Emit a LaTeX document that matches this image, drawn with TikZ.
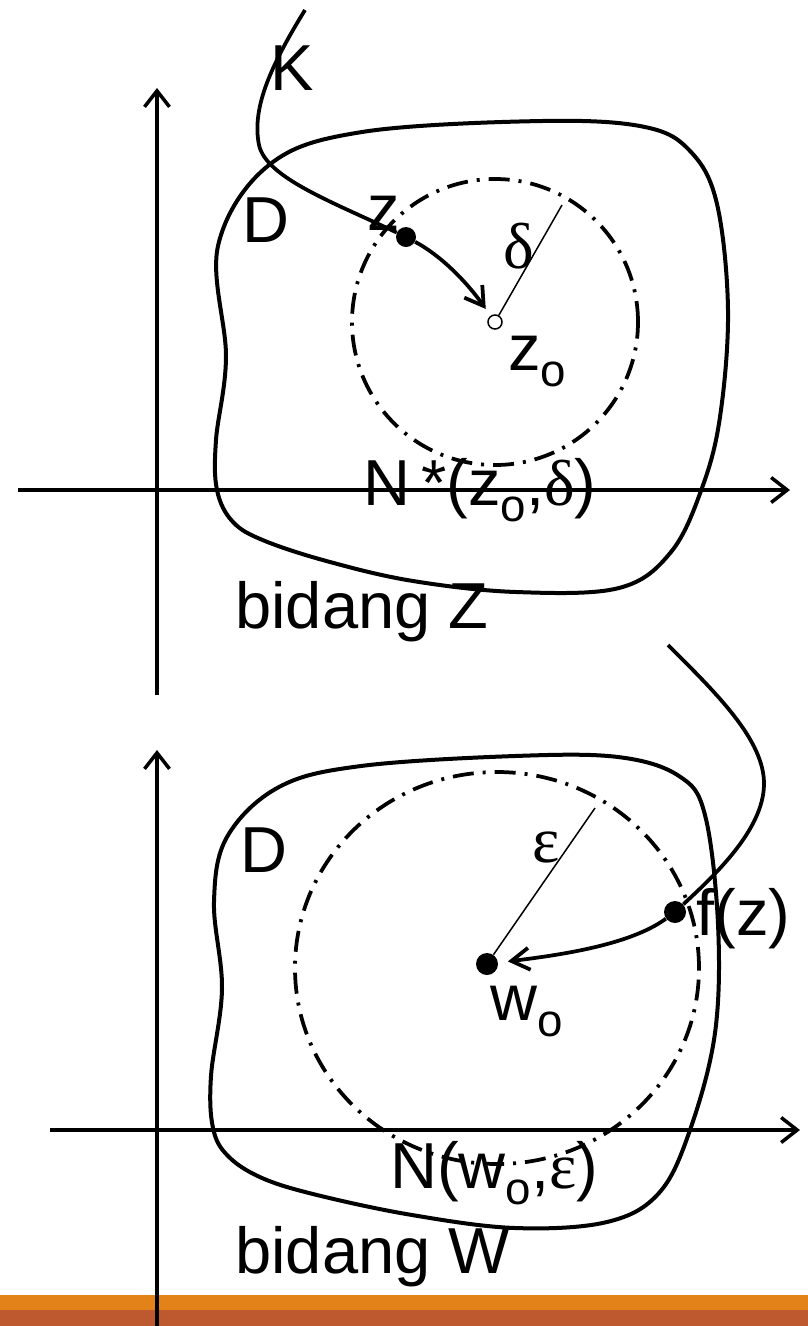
\documentclass[tikz,border=0pt]{standalone}
\usepackage{fontspec}
\setmainfont{Liberation Sans}
\newfontfamily\grk{Liberation Serif}
\usetikzlibrary{positioning, arrows.meta, calc}

\definecolor{barorange}{HTML}{E4821A}
\definecolor{barred}{HTML}{BE582E}
\newcommand\subo{\raisebox{-0.25em}{\fontsize{26}{26}\selectfont o}}

\begin{document}
\begin{tikzpicture}[
    x=0.2mm, y=-0.2mm,
    axis/.style={line width=0.7mm, -{Straight Barb[length=3.2mm, width=5mm]}},
    region/.style={line width=0.8mm},
    trace/.style={line width=0.75mm},
    mapto/.style={line width=0.75mm, -{Straight Barb[length=3.6mm, width=4.4mm]}},
    nbhd/.style={line width=0.75mm, dash pattern=on 4.2mm off 1.8mm on 0.6mm off 1.8mm},
    radline/.style={line width=0.3mm},
    dot/.style={circle, fill, inner sep=0pt, minimum size=4.4mm},
    hollow/.style={circle, draw, fill=white, line width=0.3mm, inner sep=0pt, minimum size=2.8mm},
    lbl/.style={inner sep=0pt, anchor=base west, font=\fontsize{37}{40}\selectfont},
]
\useasboundingbox (0,0) rectangle (808,1326);

% ---- Bottom bars ----
\fill[barorange] (0,1295) rectangle (808,1310);
\fill[barred] (0,1310) rectangle (808,1326);

% ---- Plane Z ----
\coordinate (zxl) at (18,490);
\coordinate (zxr) at (790,490);
\coordinate (zyb) at (157,695);
\coordinate (zyt) at (157,88);
\draw[axis] (zxl) -- (zxr);
\draw[axis] (zyb) -- (zyt);

\draw[region] plot[smooth cycle, tension=0.6] coordinates {
    (218,246) (269,165) (362,132) (542,121) (645,127) (691,152) (717,204)
    (728,310) (720,417) (702,488) (671,552) (619,588) (516,592) (413,581)
    (330,562) (265,541) (233,522) (217,490) (216,440) (226,357)};

\node[hollow] (zo) at (495,322) {};
\draw[nbhd] (zo.center) circle[radius=28.6mm];
\coordinate (dtop) at (562,205);
\draw[radline] (zo) -- (dtop);

\node[dot, minimum size=4mm] (z) at (406,237) {};
\coordinate (kstart) at (305,10);
\draw[trace] (kstart) .. controls (268,70) and (252,110) .. (259,145)
    .. controls (266,178) and (335,203) .. (z);
\draw[mapto, shorten >=3.2mm] (z) .. controls (440,255) and (466,281) .. (zo.center);

\node[lbl] (lk) at (270,90) {K};
\node[lbl] (ld1) at (242,242) {D};
\node[lbl] (lz) at (367,230) {z};
\node[lbl] (lzo) at (508,370) {z\subo};
\node[lbl] (ldelta) at (503,268) {\grk δ};
\node[lbl] (lnz) at (363,505) {N\,*(z\subo,{\grk δ})};
\node[lbl] (lbz) at (235,628) {bidang Z};

% ---- Plane W ----
\coordinate (wxl) at (50,1130);
\coordinate (wxr) at (800,1130);
\coordinate (wyb) at (157,1326);
\coordinate (wyt) at (157,750);
\draw[axis] (wxl) -- (wxr);
\draw[axis] (wyb) -- (wyt);

\draw[region] plot[smooth cycle, tension=0.6] coordinates {
    (227,837) (279,787) (361,766) (515,756) (618,757) (679,776) (705,815)
    (718,924) (715,1033) (690,1130) (659,1193) (607,1222) (515,1228)
    (412,1215) (317,1195) (262,1178) (228,1156) (213,1128) (211,1076)
    (222,989) (214,902)};

\node[dot] (wo) at (487,964) {};
\coordinate (wc) at (497,968);
\draw[nbhd] (wc) ellipse[x radius=40.4mm, y radius=39.2mm];
\coordinate (etop) at (595,808);
\draw[radline] (wo) -- (etop);

\node[dot] (fz) at (675,912) {};
\coordinate (ftop) at (668,645);
\draw[trace] (ftop) .. controls (715,692) and (765,740) .. (764,785)
    .. controls (763,830) and (715,875) .. (fz);
\draw[mapto, shorten >=4.2mm] (fz) .. controls (630,945) and (560,955) .. (wo.center);

\node[lbl] (ld2) at (240,872) {D};
\node[lbl] (leps) at (532,862) {\grk ε};
\node[lbl] (lwo) at (490,1020) {w\subo};
\node[lbl] (lfz) at (696,935) {f(z)};
\node[lbl] (lnw) at (390,1188) {N(w\subo,{\grk ε})};
\node[lbl] (lbw) at (235,1273) {bidang W};

\end{tikzpicture}
\end{document}
